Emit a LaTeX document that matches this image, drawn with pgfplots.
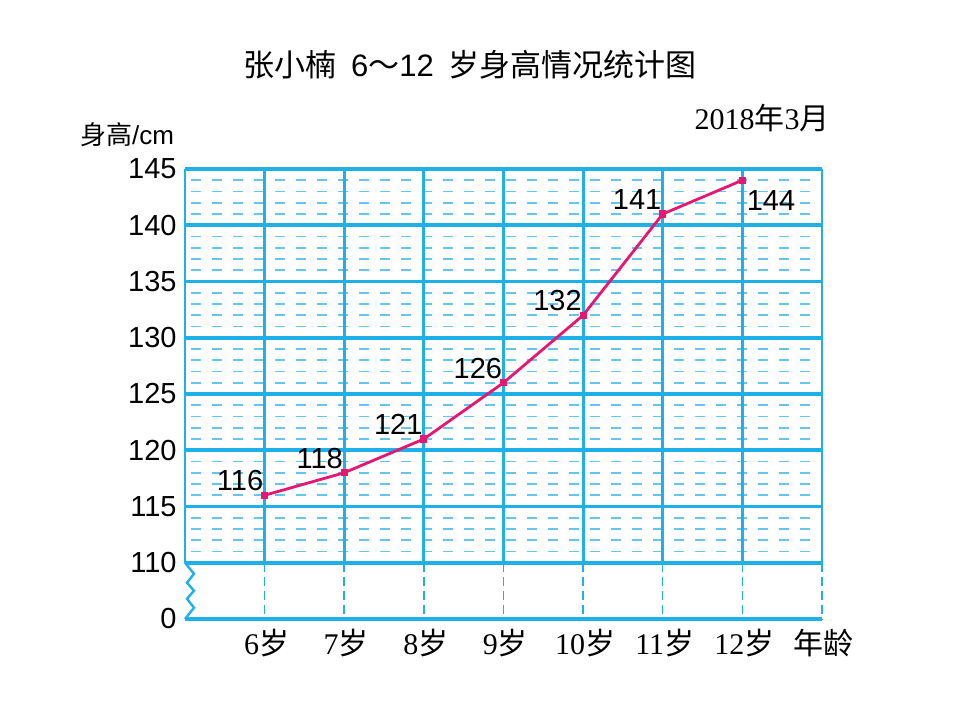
\documentclass[border=0pt]{standalone}
\usepackage{pgfplots}
\pgfplotsset{compat=1.18}
\usepackage{fontspec}
\setmainfont{Liberation Sans}
\newfontfamily\cjk{Noto Sans CJK SC}
\newfontfamily\serif{Liberation Serif}
\definecolor{gridblue}{RGB}{30,176,230}
\definecolor{minorblue}{RGB}{100,198,236}
\definecolor{linepink}{RGB}{232,22,112}
\newcommand\sui[1]{{\serif #1}{\cjk 岁}}
\begin{document}
\begin{tikzpicture}
\path[use as bounding box] (0,0) rectangle (480pt,360pt);
\begin{axis}[
  at={(92.5pt,50.5pt)}, anchor=south west,
  scale only axis, width=318.5pt, height=225pt,
  xmin=5, xmax=13, ymin=105, ymax=145,
  clip=false,
  axis line style={draw=none},
  major tick length=0pt,
  xtick={6,7,8,9,10,11,12,13},
  xticklabels={\sui{6},\sui{7},\sui{8},\sui{9},\sui{10},\sui{11},\sui{12},{\cjk 年龄}},
  ytick={105,110,115,120,125,130,135,140,145},
  yticklabels={0,110,115,120,125,130,135,140,145},
  yticklabel style={font=\fontsize{14.5}{16}\selectfont, anchor=east, inner sep=0pt, xshift=-4pt},
  xticklabel style={font=\fontsize{15}{17}\selectfont, anchor=north, inner sep=0pt, yshift=-5pt, xshift=1pt},
]
% minor dashed horizontals
\pgfplotsinvokeforeach{111,112,113,114,116,117,118,119,121,122,123,124,126,127,128,129,131,132,133,134,136,137,138,139,141,142,143,144}{
  \draw[minorblue, line width=0.8pt, dash pattern=on 5pt off 5.5pt, dash phase=-3pt] (axis cs:5,#1) -- (axis cs:13,#1);
}
% dashed verticals in the break band
\pgfplotsinvokeforeach{6,7,8,9,10,11,12,13}{
  \draw[gridblue, line width=0.75pt, dash pattern=on 4.7pt off 2.3pt] (axis cs:#1,110) -- (axis cs:#1,105);
}
% major verticals
\pgfplotsinvokeforeach{6,7,8,9,10,11,12}{
  \draw[gridblue, line width=1.4pt] (axis cs:#1,110) -- (axis cs:#1,145);
}
\draw[gridblue, line width=1pt] (axis cs:5,110) -- (axis cs:5,145);
\draw[gridblue, line width=1.2pt] (axis cs:13,110) -- (axis cs:13,145);
% major horizontals
\pgfplotsinvokeforeach{110,115,120,125,130,135,140,145}{
  \draw[gridblue, line width=1.9pt] (axis cs:5,#1) -- (axis cs:13,#1);
}
\draw[gridblue, line width=1.9pt] (axis cs:5,105) -- (axis cs:13,105);
% zigzag break
\draw[gridblue, line width=1.2pt, line join=miter] (axis cs:5,110) -- ++(4.5pt,-5.5pt) -- ++(-3.5pt,-4.5pt) -- ++(3.5pt,-4pt) -- ++(-3.5pt,-4pt) -- ++(3.5pt,-4.5pt) -- (axis cs:5,105);
% data
\addplot[linepink, line width=1.4pt, mark=square*, mark size=1.1pt] coordinates {
  (6,116) (7,118) (8,121) (9,126) (10,132) (11,141) (12,144)
};
\addplot[draw=none, mark=none, point meta=explicit symbolic,
  nodes near coords={\pgfplotspointmeta},
  every node near coord/.append style={font=\fontsize{14.5}{16}\selectfont, anchor=south east, inner sep=0pt, xshift=-0.5pt, yshift=2pt, text=black}]
  coordinates {
  (6,116) [116] (7,118) [118] (8,121) [121] (9,126) [126] (10,132) [132] (11,141) [141]
};
\addplot[draw=none, mark=none, point meta=explicit symbolic,
  nodes near coords={\pgfplotspointmeta},
  every node near coord/.append style={font=\fontsize{14.5}{16}\selectfont, anchor=north west, inner sep=0pt, xshift=2pt, yshift=-5pt, text=black}]
  coordinates {
  (12,144) [144]
};
\end{axis}
\node[font=\fontsize{15.5}{17}\selectfont] at (235pt,327.5pt) {{\cjk 张小楠}\hspace{0.2em} 6{\cjk ～}12 \hspace{0.2em}{\cjk 岁身高情况统计图}};
\node[font=\fontsize{15}{17}\selectfont] at (381pt,301pt) {{\serif 2018}{\cjk 年}{\serif 3}{\cjk 月}};
\node[font=\fontsize{13}{15}\selectfont] at (63.5pt,292.5pt) {{\cjk 身高}/cm};
\end{tikzpicture}
\end{document}
